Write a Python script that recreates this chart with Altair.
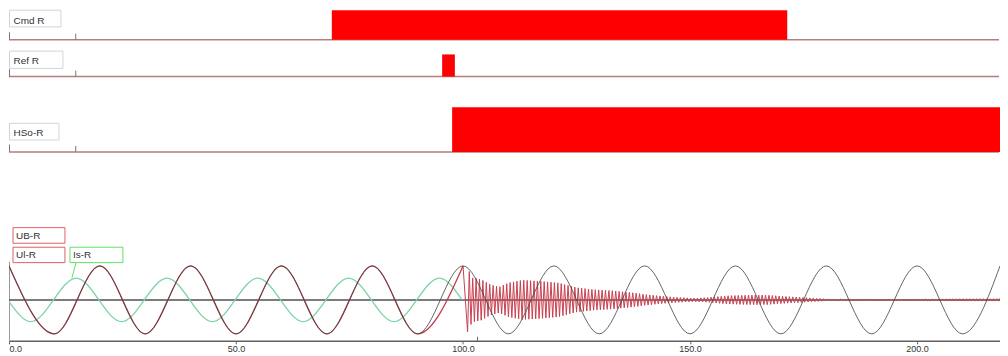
import altair as alt
import numpy as np
import pandas as pd

PX_PER_UNIT = 4.545
W = 992
H = 333
T_MAX = W / PX_PER_UNIT

# ---------------- digital channels ----------------
dig_names = ["Cmd R", "Ref R", "HSo-R"]
dig_start = [71.1, 95.4, 97.6]
dig_end = [171.4, 98.2, 220.0]

# cursor markers
cursor_top = 14.7
cursor_bottom = 103.2

# ---------------- analog channels ----------------
# UB-R (bus voltage): extrema (normalised amplitude)
ub_t = [0, 10, 20, 30, 40, 50, 60, 70, 80, 90, 100, 110, 120, 130, 140, 150,
        160, 170, 180, 190, 200, 210, 220]
ub_v = [1.0, -1.0, 1.0, -1.0, 1.0, -1.0, 1.0, -1.0, 1.0, -1.0, 1.0, -1.0,
        1.0, -1.0, 1.0, -1.0, 1.0, -1.0, 1.0, -1.0, 1.0, -1.0, 1.0]

# Ul-R (line voltage) before the opening: follows UB-R
ul_pre_t = [0, 10, 20, 30, 40, 50, 60, 70, 80, 90, 100]
ul_pre_v = [1.0, -1.0, 1.0, -1.0, 1.0, -1.0, 1.0, -1.0, 1.0, -1.0, 1.0]

# Ul-R after the opening: ringing envelope
ring_half_period = 0.375
env_t = [101, 102, 104, 106, 108, 110, 113, 117, 121, 125, 129, 133, 138, 140,
         143, 146.5, 151, 154, 158, 163, 167, 171, 175, 180, 187, 195, 200,
         205, 212, 220]
env_a = [0.94, 0.65, 0.6, 0.45, 0.38, 0.5, 0.58, 0.55, 0.5, 0.36, 0.3, 0.27,
         0.2, 0.16, 0.12, 0.08, 0.05, 0.07, 0.12, 0.14, 0.14, 0.1, 0.07, 0.03,
         0.015, 0.01, 0.015, 0.03, 0.035, 0.035]

# Is-R (current): extrema
is_t = [0, 4.8, 14.8, 24.8, 34.8, 44.8, 54.8, 64.8, 74.8, 84.8, 94.8, 99.8]
is_v = [-0.05, -0.64, 0.64, -0.64, 0.64, -0.64, 0.64, -0.64, 0.64, -0.64,
        0.64, 0.0]

# ---------------- tables ----------------
ring_t = np.arange(101.0, 220.0 + 1e-9, ring_half_period)
ring_amp = np.interp(ring_t, env_t, env_a)
ring_sign = np.where(np.arange(len(ring_t)) % 2 == 0, -1.0, 1.0)
ul_ring = pd.DataFrame({"t": np.concatenate([[100.0], ring_t]),
                        "v": np.concatenate([[1.0], ring_amp * ring_sign])})
ub_df = pd.DataFrame({"t": ub_t, "v": ub_v})
ul_pre_df = pd.DataFrame({"t": ul_pre_t, "v": ul_pre_v})
is_df = pd.DataFrame({"t": is_t, "v": is_v})
one = pd.DataFrame({"k": [0]})

FONT = "Liberation Sans"
ZERO_Y = 292          # pixel row of the analog zero line
PX_PER_V = 34.0       # pixels per normalised unit
xscale = alt.Scale(domain=[0, T_MAX], nice=False, zero=False, clamp=True)
yscale = alt.Scale(domain=[-(H - ZERO_Y) / PX_PER_V, ZERO_Y / PX_PER_V],
                   nice=False, zero=False)
xaxis = alt.Axis(values=[0, 50, 100, 150, 200], format=".1f", labelFlush=True,
                 grid=False, domainColor="#606060", domainWidth=1.5,
                 tickColor="#606060", tickSize=3, labelFontSize=9,
                 labelFont=FONT, labelColor="#333333", labelPadding=1, title=None)


def box(x0, x1, y0, y1, color):
    return alt.Chart(one).mark_rect(fill="white", stroke=color, strokeWidth=1).encode(
        x=alt.value(x0), x2=alt.value(x1), y=alt.value(y0), y2=alt.value(y1))


def label(x, y, txt):
    return alt.Chart(one).mark_text(text=txt, align="left", baseline="alphabetic",
                                    font=FONT, fontSize=10, color="#333333").encode(
        x=alt.value(x), y=alt.value(y))


def vline(x, y0, y1, color="#777777", width=1.0):
    return alt.Chart(one).mark_rule(color=color, strokeWidth=width).encode(
        x=alt.value(x), y=alt.value(y0), y2=alt.value(y1))


def hline(y, color, width):
    return alt.Chart(one).mark_rule(color=color, strokeWidth=width).encode(
        x=alt.value(0), x2=alt.value(W - 1), y=alt.value(y))


def digital(i, base_y, top_y, box_y0, box_y1, box_x1, text_y):
    d = pd.DataFrame({"start": [dig_start[i]], "end": [dig_end[i]]})
    rect = alt.Chart(d).mark_rect(color="#ff0000").encode(
        x=alt.X("start:Q", scale=xscale, axis=xaxis),
        x2="end:Q",
        y=alt.value(top_y), y2=alt.value(base_y))
    cur = alt.Chart(one).mark_rule(color="#777777", strokeWidth=1).encode(
        x=alt.X(datum=cursor_top, scale=xscale, axis=xaxis),
        y=alt.value(base_y - 6), y2=alt.value(base_y))
    return [hline(base_y, "#b87c7c", 1.5), vline(0.5, base_y - 7.5, base_y),
            rect, cur, box(0.5, box_x1, box_y0, box_y1, "#cdd5de"),
            label(4.5, text_y, dig_names[i])]


def enc(ch):
    return ch.encode(x=alt.X("t:Q", scale=xscale, axis=xaxis),
                     y=alt.Y("v:Q", scale=yscale, axis=None))


layers = []
layers += digital(0, 31.5, 2, 2, 18.7, 52, 16)
layers += digital(1, 68.5, 46.3, 43, 60.3, 54, 56)
layers += digital(2, 144, 99.3, 115.3, 132, 50, 128)

layers += [
    vline(0.5, 254, H, color="#999999"),
    hline(ZERO_Y, "#505050", 1.5),
    enc(alt.Chart(is_df).mark_line(color="#7fd3a6", strokeWidth=1.3,
                                   interpolate="monotone", clip=True)),
    enc(alt.Chart(ul_pre_df).mark_line(color="#c23c4c", strokeWidth=1.3,
                                       interpolate="monotone", clip=True)),
    enc(alt.Chart(ul_ring).mark_line(color="#c8404f", strokeWidth=1.0, clip=True)),
    enc(alt.Chart(ub_df).mark_line(color="#4a4a4a", strokeWidth=1.0, opacity=0.85,
                                   interpolate="monotone", clip=True)),
    alt.Chart(one).mark_rule(color="#606060", strokeWidth=1).encode(
        x=alt.X(datum=cursor_bottom, scale=xscale, axis=xaxis),
        y=alt.value(H - 4), y2=alt.value(H)),
    alt.Chart(one).mark_rule(color="#60e060", strokeWidth=1).encode(
        x=alt.value(67), x2=alt.value(63), y=alt.value(255), y2=alt.value(270)),
    box(4, 56, 219.7, 235.3, "#e06060"), label(7, 231, "UB-R"),
    box(4, 56, 239.3, 254.7, "#e06060"), label(7, 250.5, "Ul-R"),
    box(61, 114, 239.3, 254.7, "#60e060"), label(64, 250.5, "Is-R"),
]

chart = alt.layer(*layers).properties(
    width=W, height=H,
    padding={"left": 0, "top": 0, "right": 0, "bottom": 0}, background="white"
).configure_view(stroke="transparent")

chart.save("out.html", embed_options={"renderer": "svg", "actions": False})
